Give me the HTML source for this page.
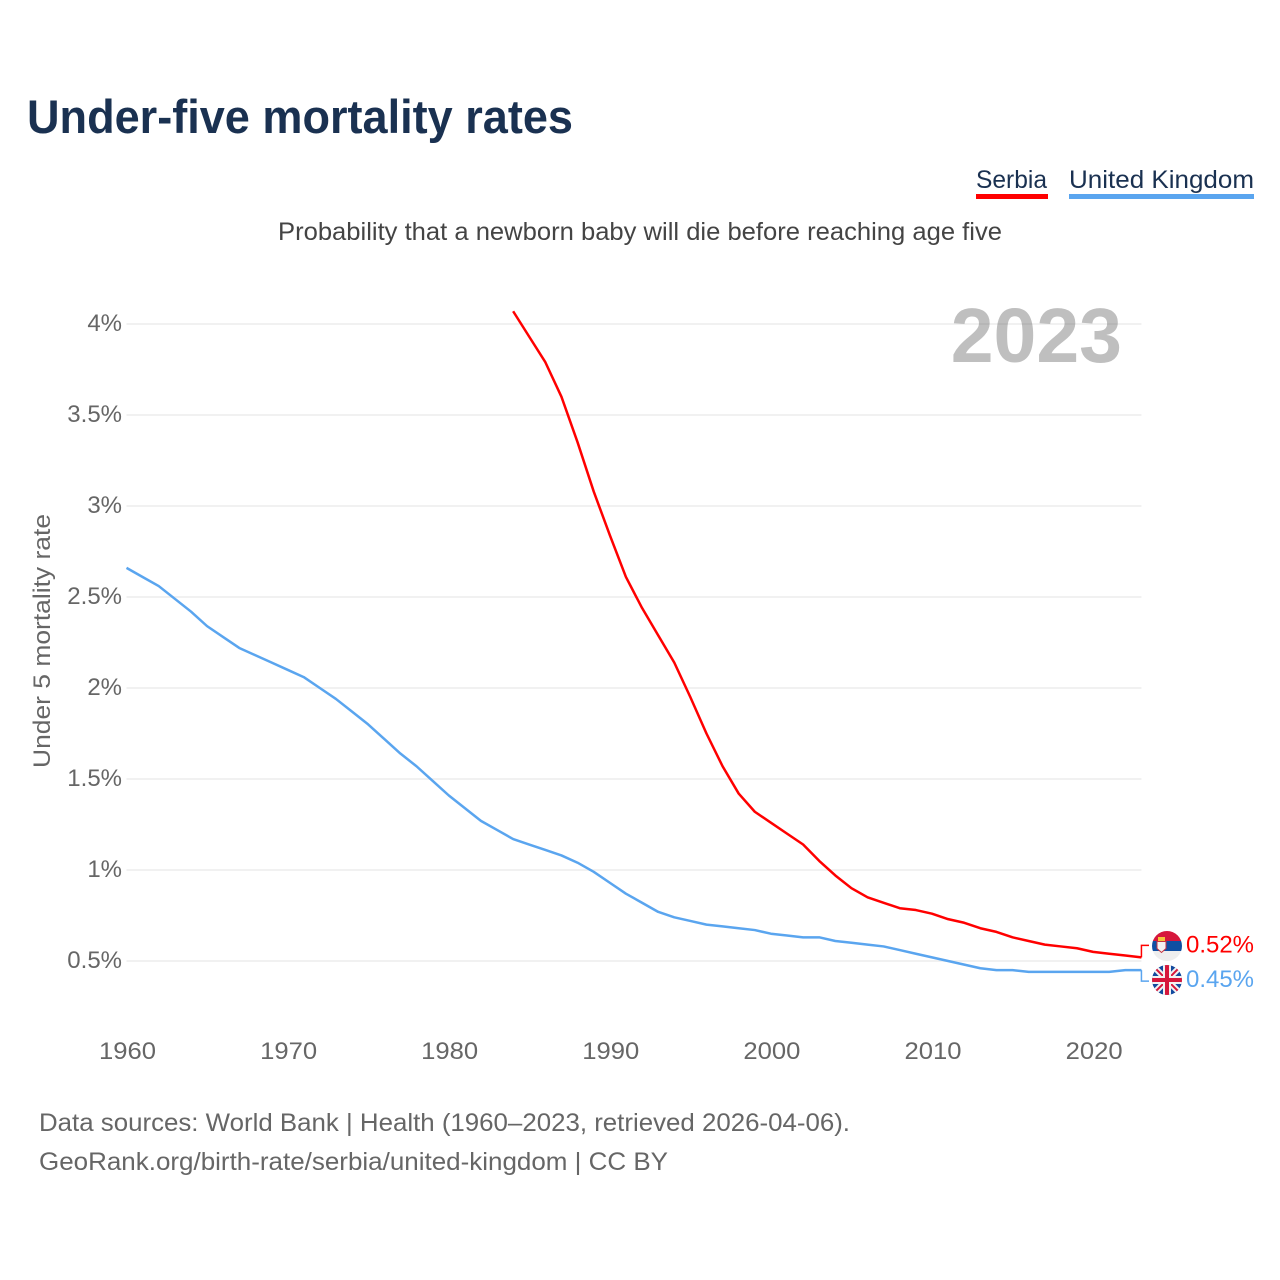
<!DOCTYPE html>
<html lang="en">
<head>
<meta charset="utf-8">
<title>Under-five mortality rates</title>
<style>
html,body{margin:0;padding:0;background:#fff;}
svg{display:block;font-family:"Liberation Sans",sans-serif;}
</style>
</head>
<body>
<svg id="chart" xmlns="http://www.w3.org/2000/svg" width="1280" height="1280" viewBox="0 0 1280 1280">
  <rect width="1280" height="1280" fill="#fff"/>
  <text x="27" y="133" font-size="47" font-weight="700" fill="#1a3151" textLength="546" lengthAdjust="spacingAndGlyphs">Under-five mortality rates</text>
  <g>
    <text x="976" y="188" font-size="25" fill="#1a3151" textLength="71" lengthAdjust="spacingAndGlyphs">Serbia</text>
    <rect x="976" y="194" width="72" height="5" fill="#ff0000"/>
  </g>
  <g>
    <text x="1069" y="188" font-size="25" fill="#1a3151" textLength="185" lengthAdjust="spacingAndGlyphs">United Kingdom</text>
    <rect x="1069" y="194" width="185" height="5" fill="#5aa5ef"/>
  </g>
  <text x="278" y="240" font-size="25" fill="#444" textLength="724" lengthAdjust="spacingAndGlyphs">Probability that a newborn baby will die before reaching age five</text>
  <text x="1122" y="362" text-anchor="end" font-size="77" font-weight="700" fill="#bfbfbf">2023</text>
  <g id="grid"></g>
  <g id="yticks"></g>
  <g id="xticks"></g>
  <text transform="translate(50,641) rotate(-90)" text-anchor="middle" font-size="24" fill="#666" textLength="254" lengthAdjust="spacingAndGlyphs">Under 5 mortality rate</text>
  <g id="series"></g>
  <defs>
    <clipPath id="clip-rs"><circle cx="1167" cy="946" r="15"/></clipPath>
    <clipPath id="clip-uk"><circle cx="1167" cy="980" r="15"/></clipPath>
  </defs>
  <g clip-path="url(#clip-rs)">
    <rect x="1152" y="931" width="30" height="10" fill="#d6173c"/>
    <rect x="1152" y="941" width="30" height="10" fill="#0f4fa3"/>
    <rect x="1152" y="951" width="30" height="10" fill="#eeeeee"/>
    <rect x="1158" y="937" width="7" height="4" fill="#f5c33b"/>
    <path d="M1157 941.5h9v7l-4.500 4-4.500-4z" fill="#f2f2f2" stroke="#c8323f" stroke-width="1"/>
  </g>
  <g clip-path="url(#clip-uk)">
    <rect x="1152" y="965" width="30" height="30" fill="#134a9e"/>
    <path d="M1152 965L1182 995M1182 965L1152 995" stroke="#f2f2f2" stroke-width="6"/>
    <path d="M1152 965L1182 995M1182 965L1152 995" stroke="#d6173c" stroke-width="2"/>
    <path d="M1167 965V995M1152 980H1182" stroke="#f2f2f2" stroke-width="8"/>
    <path d="M1167 965V995M1152 980H1182" stroke="#d6173c" stroke-width="4"/>
  </g>
  <text x="39" y="1131" font-size="25" fill="#666" textLength="811" lengthAdjust="spacingAndGlyphs">Data sources: World Bank | Health (1960–2023, retrieved 2026-04-06).</text>
  <text x="39" y="1170" font-size="25" fill="#666" textLength="629" lengthAdjust="spacingAndGlyphs">GeoRank.org/birth-rate/serbia/united-kingdom | CC BY</text>
</svg>
<script>
const yTickValues = [0.5, 1, 1.5, 2, 2.5, 3, 3.5, 4];
const yTickLabels = ["0.5%", "1%", "1.5%", "2%", "2.5%", "3%", "3.5%", "4%"];
const xTickYears = [1960, 1970, 1980, 1990, 2000, 2010, 2020];
const xTickLabels = ["1960", "1970", "1980", "1990", "2000", "2010", "2020"];

const ukYears = [1960,1961,1962,1963,1964,1965,1966,1967,1968,1969,1970,1971,1972,1973,1974,1975,1976,1977,1978,1979,1980,1981,1982,1983,1984,1985,1986,1987,1988,1989,1990,1991,1992,1993,1994,1995,1996,1997,1998,1999,2000,2001,2002,2003,2004,2005,2006,2007,2008,2009,2010,2011,2012,2013,2014,2015,2016,2017,2018,2019,2020,2021,2022,2023];
const ukValues = [2.66,2.61,2.56,2.49,2.42,2.34,2.28,2.22,2.18,2.14,2.10,2.06,2.00,1.94,1.87,1.80,1.72,1.64,1.57,1.49,1.41,1.34,1.27,1.22,1.17,1.14,1.11,1.08,1.04,0.99,0.93,0.87,0.82,0.77,0.74,0.72,0.70,0.69,0.68,0.67,0.65,0.64,0.63,0.63,0.61,0.60,0.59,0.58,0.56,0.54,0.52,0.50,0.48,0.46,0.45,0.45,0.44,0.44,0.44,0.44,0.44,0.44,0.45,0.45];
const serbiaYears = [1984,1985,1986,1987,1988,1989,1990,1991,1992,1993,1994,1995,1996,1997,1998,1999,2000,2001,2002,2003,2004,2005,2006,2007,2008,2009,2010,2011,2012,2013,2014,2015,2016,2017,2018,2019,2020,2021,2022,2023];
const serbiaValues = [4.07,3.93,3.79,3.60,3.35,3.08,2.84,2.61,2.44,2.29,2.14,1.95,1.75,1.57,1.42,1.32,1.26,1.20,1.14,1.05,0.97,0.90,0.85,0.82,0.79,0.78,0.76,0.73,0.71,0.68,0.66,0.63,0.61,0.59,0.58,0.57,0.55,0.54,0.53,0.52];

const NS = "http://www.w3.org/2000/svg";
const xScale = year => 126.5 + (year - 1960) * 16.11;
const yScale = value => 1052 - value * 182;
const plotLeft = xScale(1960);
const plotRight = xScale(2023);

function make(parent, tag, attrs, text) {
  const el = document.createElementNS(NS, tag);
  for (const k in attrs) el.setAttribute(k, attrs[k]);
  if (text !== undefined) el.textContent = text;
  parent.appendChild(el);
  return el;
}

const grid = document.getElementById("grid");
const yticks = document.getElementById("yticks");
const xticks = document.getElementById("xticks");
const series = document.getElementById("series");

yTickValues.forEach((v, i) => {
  const line = make(grid, "line", {x1: plotLeft, x2: plotRight, y1: yScale(v), y2: yScale(v), stroke: "#666", "stroke-opacity": 0.09, "stroke-width": 2});
  
  
  const t = make(yticks, "text", {x: 122, y: yScale(v) + 7, "text-anchor": "end", "font-size": 24, fill: "#666"}, yTickLabels[i]);
  
  
});

xTickYears.forEach((yr, i) => {
  const t = make(xticks, "text", {x: xScale(yr) + 1, y: 1059, "text-anchor": "middle", "font-size": 24, fill: "#666", textLength: 57, lengthAdjust: "spacingAndGlyphs"}, xTickLabels[i]);
  
  
});

function pathFrom(years, values) {
  return years.map((yr, i) => (i ? "L" : "M") + xScale(yr).toFixed(2) + " " + yScale(values[i]).toFixed(2)).join("");
}

const ukLine = make(series, "path", {d: pathFrom(ukYears, ukValues), fill: "none", stroke: "#5aa5ef", "stroke-width": 2.5, "stroke-linejoin": "round"});


const rsLine = make(series, "path", {d: pathFrom(serbiaYears, serbiaValues), fill: "none", stroke: "#ff0000", "stroke-width": 2.5, "stroke-linejoin": "round"});



const rsLast = serbiaValues[serbiaValues.length - 1];
const ukLast = ukValues[ukValues.length - 1];
const rsEndY = yScale(rsLast);
const ukEndY = yScale(ukLast);

const rsConn = make(series, "path", {d: "M" + plotRight + " " + rsEndY + "V" + (rsEndY - 12) + "H1149", fill: "none", stroke: "#ff0000", "stroke-width": 1.5});


const ukConn = make(series, "path", {d: "M" + plotRight + " " + ukEndY + "V" + (ukEndY + 11) + "H1149", fill: "none", stroke: "#5aa5ef", "stroke-width": 1.5});



const rsVal = make(series, "text", {x: 1186, y: rsEndY - 5, "font-size": 24, fill: "#ff0000", textLength: 68, lengthAdjust: "spacingAndGlyphs"}, rsLast.toFixed(2) + "%");


const ukVal = make(series, "text", {x: 1186, y: ukEndY + 17, "font-size": 24, fill: "#5aa5ef", textLength: 68, lengthAdjust: "spacingAndGlyphs"}, ukLast.toFixed(2) + "%");


</script>
</body>
</html>
